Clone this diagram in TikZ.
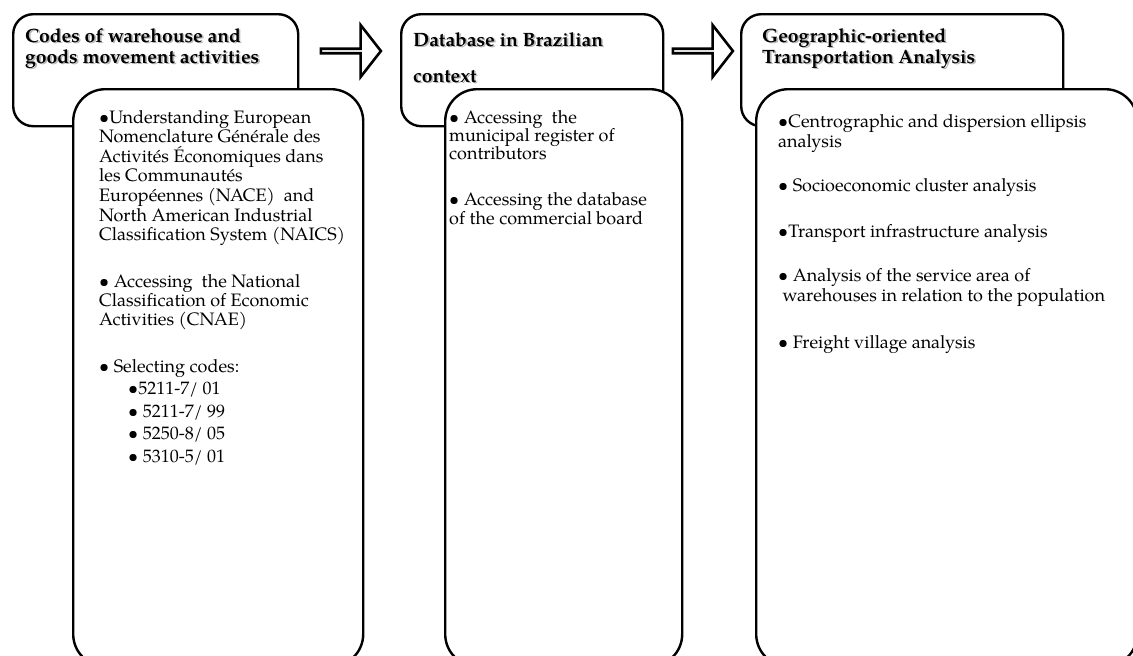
\documentclass[tikz,border=0pt]{standalone}
\usepackage{fontspec}
\setmainfont{TeX Gyre Pagella}
\usetikzlibrary{shapes.arrows}
\newcommand\shadowline[1]{\leavevmode\rlap{\kern1.6pt\raisebox{-1.8pt}{\textcolor{black!28}{#1}}}#1}
\tikzset{
  topbox/.style={draw=black, line width=2.4pt, rounded corners=20pt, fill=white, inner sep=0pt, anchor=north west},
  botbox/.style={draw=black, line width=2.4pt, rounded corners=32pt, fill=white, inner sep=0pt, anchor=north west},
  blockarrow/.style={single arrow, draw=black, line width=2.6pt, fill=white, inner sep=0pt,
    minimum height=60pt, minimum width=52pt, single arrow head extend=13.5pt,
    single arrow head indent=0pt, single arrow tip angle=104},
  ttl/.style={font=\fontsize{19.3}{21}\selectfont\bfseries, align=left, anchor=base west, inner sep=0pt},
  body/.style={font=\fontsize{18}{19.6}\selectfont, align=left, anchor=base west, inner sep=0pt},
  codes/.style={font=\fontsize{18}{22.4}\selectfont, align=left, anchor=base west, inner sep=0pt},
}
\begin{document}
\begin{tikzpicture}[x=1pt,y=-1pt]
\useasboundingbox (0,0) rectangle (1133,656);
\clip (0,0) rectangle (1133,656);
% column 1 (multi-line text nodes are placed by the baseline of their last line)
\node[topbox, minimum width=285pt, minimum height=112pt] (t1) at (12,13) {};
\node[ttl] (t1text) at (25,63) {\shadowline{Codes of warehouse and}\\\shadowline{goods movement activities}};
\node[botbox, minimum width=290pt, minimum height=577pt] (b1) at (72,88) {};
\node[body] (p11) at (99,240.6) {•Understanding European\\Nomenclature Générale des\\Activités Économiques dans\\les Communautés\\Européennes (NACE)~ and\\North American Industrial\\Classification System (NAICS)};
\node[body, font=\fontsize{18}{19}\selectfont] (p12) at (99,325) {• Accessing~ the National\\Classification of Economic\\Activities (CNAE)};
\node[body] (p13) at (99,372) {• Selecting codes:};
\node[codes] (p14) at (128,462) {•5211-7/ 01\\• 5211-7/ 99\\• 5250-8/ 05\\• 5310-5/ 01};
% arrow 1
\node[blockarrow] (a1) at (350,51) {};
% column 2
\node[topbox, minimum width=262pt, minimum height=112pt] (t2) at (400,13) {};
\node[ttl, font=\fontsize{19.3}{36}\selectfont\bfseries] (t2text) at (413,82) {\shadowline{Database in Brazilian}\\\shadowline{context}};
\node[botbox, minimum width=237pt, minimum height=577pt] (b2) at (444,88) {};
\node[body, font=\fontsize{18}{18.2}\selectfont] (p21) at (449,159.4) {• Accessing~ the\\municipal register of\\contributors};
\node[body, font=\fontsize{18}{18.2}\selectfont] (p22) at (449,224) {• Accessing the database\\of the commercial board};
% arrow 2
\node[blockarrow] (a2) at (702,51) {};
% column 3
\node[topbox, minimum width=322pt, minimum height=112pt] (t3) at (740,13) {};
\node[ttl] (t3text) at (762,63) {\shadowline{Geographic-oriented}\\\shadowline{Transportation Analysis}};
\node[botbox, minimum width=381pt, minimum height=577pt] (b3) at (755,88) {};
\node[body, font=\fontsize{18}{17.2}\selectfont] (p31) at (778,147) {•Centrographic and dispersion ellipsis\\analysis};
\node[body] (p32) at (778,191) {• Socioeconomic cluster analysis};
\node[body] (p33) at (778,237) {•Transport infrastructure analysis};
\node[body, font=\fontsize{18}{17.2}\selectfont] (p34) at (778,301) {• Analysis of the service area of\\\ warehouses in relation to the population};
\node[body] (p35) at (778,348) {• Freight village analysis};
\end{tikzpicture}
\end{document}
